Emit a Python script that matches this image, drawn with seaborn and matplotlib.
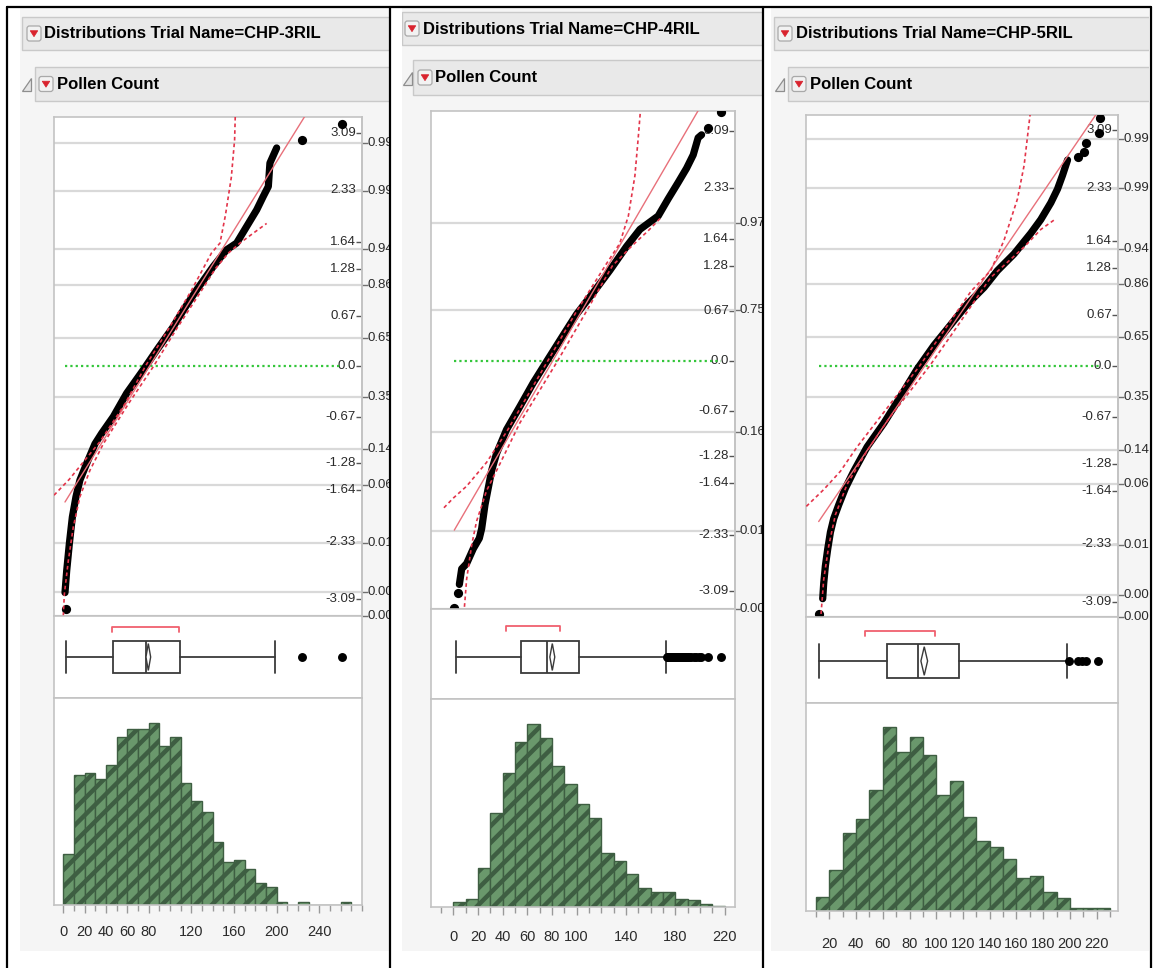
"""
JMP-style distribution report for pollen count, three RIL trials side by side.

Each panel: normal quantile plot (with fit line and Lilliefors bands),
outlier box plot and a hatched histogram, all sharing one pollen-count axis.
"""

import matplotlib
matplotlib.use("Agg")
import numpy as np
import matplotlib.pyplot as plt
import matplotlib.font_manager as fm
from matplotlib import transforms
from matplotlib.patches import Rectangle, FancyBboxPatch, Polygon
import seaborn as sns

W, H = 1156, 968

TRIALS = ["CHP-3RIL", "CHP-4RIL", "CHP-5RIL"]

# ── Normal quantile plot: dense run of points (pollen count, normal quantile) ──
qq_x_3 = [1.6, 3.2, 5.7, 8.5, 11.9, 15.6, 21.9, 29.7, 36.0, 46.9, 59.4, 75.0, 87.5,
          103.0, 112.5, 125.0, 140.6, 153.0, 162.5, 171.9, 181.3, 187.5, 192.2, 193.7, 200.0]
qq_z_3 = [-3.0, -2.71, -2.35, -2.0, -1.73, -1.51, -1.29, -1.03, -0.89, -0.67, -0.36, -0.05, 0.21,
          0.52, 0.74, 1.01, 1.32, 1.54, 1.63, 1.85, 2.07, 2.25, 2.38, 2.69, 2.89]
qq_x_4 = [4.9, 6.8, 10.8, 16.2, 21.1, 23.0, 25.7, 28.4, 31.1, 35.1, 43.2, 54.0, 64.9, 77.0,
          89.2, 100.0, 113.5, 127.0, 140.5, 151.4, 166.2, 174.3, 182.4, 189.2, 194.6, 198.6, 201.4]
qq_z_4 = [-3.0, -2.79, -2.72, -2.52, -2.38, -2.25, -1.93, -1.70, -1.47, -1.24, -0.92, -0.61, -0.29, 0.03,
          0.35, 0.63, 0.92, 1.22, 1.54, 1.77, 1.95, 2.18, 2.40, 2.59, 2.77, 3.0, 3.04]
qq_x_5 = [15.0, 15.75, 17.0, 18.75, 20.75, 23.25, 27.0, 32.0, 38.25, 48.25, 60.75, 73.25, 85.75,
          98.25, 110.75, 123.25, 135.75, 145.75, 158.25, 170.75, 178.25, 185.75, 190.75, 194.5, 198.25]
qq_z_5 = [-3.05, -2.85, -2.62, -2.40, -2.18, -2.0, -1.82, -1.60, -1.38, -1.06, -0.75, -0.40, -0.04,
          0.27, 0.54, 0.81, 1.03, 1.25, 1.47, 1.74, 1.92, 2.14, 2.32, 2.50, 2.70]

# isolated points at the tails
qq_out_x_3 = [2.2, 224.0, 261.0]
qq_out_z_3 = [-3.22, 3.0, 3.21]
qq_out_x_4 = [0.8, 3.5, 206.8, 217.0]
qq_out_z_4 = [-3.32, -3.12, 3.13, 3.34]
qq_out_x_5 = [12.0, 206.25, 210.75, 212.0, 222.0, 222.75]
qq_out_z_5 = [-3.25, 2.74, 2.81, 2.92, 3.05, 3.25]

# normal fit (mean, std dev)
fit_3 = (80.8, 44.0)
fit_4 = (80.5, 35.1)
fit_5 = (91.3, 38.9)

# Lilliefors confidence bands
band_lo_x_3 = [-8.7, 5.6, 34.4, 57.8, 77.0, 99.0, 120.0, 139.0, 146.9, 152.0, 157.5, 160.6, 161.2]
band_lo_z_3 = [-1.71, -1.5, -1.0, -0.5, 0.0, 0.5, 1.0, 1.5, 1.63, 2.0, 2.5, 3.0, 3.31]
band_hi_x_3 = [0.0, 1.0, 4.7, 9.4, 15.6, 25.0, 37.5, 61.0, 84.7, 106.5, 129.5, 143.0, 155.0, 165.6, 178.0, 190.6]
band_hi_z_3 = [-3.31, -3.02, -2.58, -2.13, -1.73, -1.38, -1.03, -0.5, 0.0, 0.5, 1.0, 1.3, 1.5, 1.63, 1.76, 1.89]
band_lo_x_4 = [-7.6, 0.0, 10.8, 27.0, 43.2, 76.5, 100.0, 124.3, 135.0, 142.0, 147.3, 150.0, 151.9]
band_lo_z_4 = [-1.97, -1.84, -1.68, -1.36, -0.95, 0.0, 0.67, 1.31, 1.58, 1.95, 2.49, 3.0, 3.39]
band_hi_x_4 = [8.6, 10.8, 14.9, 18.9, 27.0, 37.8, 54.0, 84.5, 108.0, 129.0, 145.0, 158.0, 168.0]
band_hi_z_4 = [-3.39, -2.93, -2.47, -2.15, -1.74, -1.38, -0.83, 0.0, 0.67, 1.28, 1.55, 1.75, 1.92]
band_lo_x_5 = [2.75, 15.75, 28.25, 40.75, 87.5, 126.0, 140.75, 150.75, 160.75, 165.75, 168.75, 170.25]
band_lo_z_5 = [-1.84, -1.62, -1.38, -1.06, 0.0, 0.98, 1.25, 1.65, 2.19, 2.63, 3.08, 3.30]
band_hi_x_5 = [13.75, 15.75, 19.5, 24.5, 33.25, 48.25, 65.75, 95.0, 111.0, 140.75, 165.75, 178.25, 189.5]
band_hi_z_5 = [-3.25, -2.8, -2.36, -1.95, -1.55, -1.11, -0.66, 0.0, 0.4, 1.16, 1.56, 1.79, 1.93]

# normal quantile scale drawn inside the plot
quantile_ticks = [3.09, 2.33, 1.64, 1.28, 0.67, 0.0, -0.67, -1.28, -1.64, -2.33, -3.09]
quantile_labels = ["3.09", "2.33", "1.64", "1.28", "0.67", "0.0", "-0.67", "-1.28", "-1.64", "-2.33", "-3.09"]

# probability axis (right), positions in normal-quantile units
prob_z_3 = [2.96, 2.32, 1.55, 1.08, 0.37, -0.41, -1.10, -1.58, -2.34, -2.99, -3.31]
prob_z_4 = [1.86, 0.685, -0.954, -2.28, -3.33]
prob_z_5 = [2.98, 2.33, 1.53, 1.08, 0.38, -0.41, -1.10, -1.55, -2.34, -3.0, -3.29]
prob_labels_3 = ["0.99", "0.99", "0.94", "0.86", "0.65", "0.35", "0.14", "0.06", "0.01", "0.00", "0.00"]
prob_labels_4 = ["0.97", "0.75", "0.16", "0.01", "0.00"]
prob_labels_5 = ["0.99", "0.99", "0.94", "0.86", "0.65", "0.35", "0.14", "0.06", "0.01", "0.00", "0.00"]

# ── Box plots ──
box_3 = dict(whislo=2.8, q1=46.4, med=77.2, q3=109.4, whishi=198.0)
box_4 = dict(whislo=2.0, q1=55.0, med=75.7, q3=102.0, whishi=172.5)
box_5 = dict(whislo=12.5, q1=63.0, med=86.5, q3=117.0, whishi=197.5)
fliers_3 = [224, 261]
fliers_4 = [173, 174, 175, 176, 177, 178, 179, 180, 181, 182, 183, 184, 185, 186, 187,
            188, 189, 190, 191, 193, 195, 197, 199, 201, 207, 217]
fliers_5 = [199, 206, 209, 212, 221]
mean_3, mean_ci_3 = 79.7, (77.5, 81.9)
mean_4, mean_ci_4 = 80.3, (78.3, 82.3)
mean_5, mean_ci_5 = 91.0, (88.5, 93.5)
shortest_half_3 = (46, 108)
shortest_half_4 = (43, 86.5)
shortest_half_5 = (47, 99)

# ── Histograms (bin width 10) ──
BIN_WIDTH = 10
hist_start_3 = 0
hist_counts_3 = [152, 387, 392, 377, 417, 500, 525, 525, 543, 473, 500, 365, 310, 278,
                 187, 128, 133, 107, 65, 55, 8, 0, 8, 0, 0, 0, 8]
hist_start_4 = 0
hist_counts_4 = [15, 25, 117, 282, 400, 493, 548, 505, 422, 368, 308, 267, 160, 138,
                 100, 57, 45, 45, 25, 20, 8, 3]
hist_start_5 = 10
hist_counts_5 = [41, 123, 233, 275, 363, 550, 476, 520, 466, 346, 390, 281, 210, 193,
                 156, 100, 106, 58, 40, 8, 8, 8]
hist_top = [617, 622, 623]

hist_ticks_3 = [0, 20, 40, 60, 80, 120, 160, 200, 240]
hist_ticks_4 = [0, 20, 40, 60, 80, 100, 140, 180, 220]
hist_ticks_5 = [20, 40, 60, 80, 100, 120, 140, 160, 180, 200, 220]

x_limits = [(-8.7, 280.0), (-18.1, 228.5), (2.5, 236.0)]
z_limits = [(-3.31, 3.30), (-3.33, 3.36), (-3.29, 3.29)]

# ── Layout, in image pixels (x0, y0, x1, y1) ──
LAYOUT = [
    dict(shot=(20, 8, 389, 951), bar1=(22, 17, 50), btn1=27, txt1=44,
         tri=22, bar2=(35, 67, 101), btn2=39, txt2=57,
         qq=(54, 117, 362, 616), box_y1=698, hist_y1=905, label_y=933,
         box_c=657, box_h=32, bracket_y=627),
    dict(shot=(402, 8, 763, 951), bar1=(402, 12, 45), btn1=405, txt1=423,
         tri=403, bar2=(413, 60, 95), btn2=418, txt2=435,
         qq=(431, 111, 735, 609), box_y1=699, hist_y1=907, label_y=938,
         box_c=657, box_h=32, bracket_y=626),
    dict(shot=(771, 8, 1149, 951), bar1=(774, 17, 50), btn1=778, txt1=796,
         tri=775, bar2=(788, 67, 101), btn2=792, txt2=810,
         qq=(806, 115, 1118, 617), box_y1=703, hist_y1=911, label_y=945,
         box_c=661, box_h=34, bracket_y=631),
]

PANELS = [
    dict(qx=qq_x_3, qz=qq_z_3, ox=qq_out_x_3, oz=qq_out_z_3, fit=fit_3,
         lo=(band_lo_x_3, band_lo_z_3), hi=(band_hi_x_3, band_hi_z_3),
         pz=prob_z_3, pl=prob_labels_3, box=box_3, fliers=fliers_3, mean=mean_3,
         ci=mean_ci_3, half=shortest_half_3, start=hist_start_3, counts=hist_counts_3,
         ticks=hist_ticks_3),
    dict(qx=qq_x_4, qz=qq_z_4, ox=qq_out_x_4, oz=qq_out_z_4, fit=fit_4,
         lo=(band_lo_x_4, band_lo_z_4), hi=(band_hi_x_4, band_hi_z_4),
         pz=prob_z_4, pl=prob_labels_4, box=box_4, fliers=fliers_4, mean=mean_4,
         ci=mean_ci_4, half=shortest_half_4, start=hist_start_4, counts=hist_counts_4,
         ticks=hist_ticks_4),
    dict(qx=qq_x_5, qz=qq_z_5, ox=qq_out_x_5, oz=qq_out_z_5, fit=fit_5,
         lo=(band_lo_x_5, band_lo_z_5), hi=(band_hi_x_5, band_hi_z_5),
         pz=prob_z_5, pl=prob_labels_5, box=box_5, fliers=fliers_5, mean=mean_5,
         ci=mean_ci_5, half=shortest_half_5, start=hist_start_5, counts=hist_counts_5,
         ticks=hist_ticks_5),
]

# ── Style ──
PANEL_BG = "#f5f5f5"
BAR_BG = "#e9e9e9"
BAR_EDGE = "#c9c9c9"
FRAME = "#c3c3c3"
GRID = "#d9d9d9"
TICK = "#707070"
TXT = "#2a2a2a"
RED_FIT = "#e8707a"
RED_BAND = "#e3344a"
RED_BTN = "#d9232e"
BRACKET = "#f0606e"
GREEN_REF = "#33c63a"
HIST_FACE = "#6a986c"
HIST_EDGE = "#3e5e42"
BOX_LINE = "#3a3a3a"

sns.set_theme(style="white")
_installed = {f.name for f in fm.fontManager.ttflist}
NARROW = next((n for n in ["Liberation Sans Narrow", "Liberation Sans", "Roboto"] if n in _installed),
              "DejaVu Sans")
plt.rcParams["font.family"] = [NARROW, "DejaVu Sans"]
plt.rcParams["hatch.linewidth"] = 3.2

HEADER_SIZE = 12
QUANT_SIZE = 9.5
PROB_SIZE = 9.5
HIST_LABEL_SIZE = 10.5


# ── Helpers ──────────────────────────────────────────────────────────────────

def _px_axes(fig, x0, y0, x1, y1):
    return fig.add_axes([x0 / W, 1 - y1 / H, (x1 - x0) / W, (y1 - y0) / H])


def _frame(ax):
    for spine in ax.spines.values():
        spine.set_visible(True)
        spine.set_color(FRAME)
        spine.set_linewidth(1.2)


def _button(bg, x, yc):
    bg.add_patch(FancyBboxPatch((x, yc - 7.5), 14, 15, boxstyle="round,pad=0,rounding_size=2.5",
                                facecolor="#f2f2f2", edgecolor="#a9a9a9", linewidth=0.9))
    bg.add_patch(Polygon([(x + 3.2, yc - 2.8), (x + 10.8, yc - 2.8), (x + 7, yc + 3.2)],
                         closed=True, facecolor=RED_BTN, edgecolor=RED_BTN, linewidth=0.5))


def _headers(bg, lay, title):
    x_end = lay["shot"][2] + 5
    x0, y0, y1 = lay["bar1"]
    bg.add_patch(Rectangle((x0, y0), x_end - x0, y1 - y0, facecolor=BAR_BG,
                           edgecolor=BAR_EDGE, linewidth=1.0))
    _button(bg, lay["btn1"], (y0 + y1) / 2)
    bg.text(lay["txt1"], (y0 + y1) / 2 + 0.5, f"Distributions Trial Name={title}",
            fontsize=HEADER_SIZE, fontweight="bold", color="black", ha="left", va="center")

    x0, y0, y1 = lay["bar2"]
    bg.add_patch(Rectangle((x0, y0), x_end - x0, y1 - y0, facecolor=BAR_BG,
                           edgecolor=BAR_EDGE, linewidth=1.0))
    yc = (y0 + y1) / 2
    t = lay["tri"]
    bg.add_patch(Polygon([(t, yc + 7), (t + 9, yc + 7), (t + 9, yc - 6)], closed=True,
                         facecolor="#e4e4e4", edgecolor="#8e8e8e", linewidth=0.9))
    _button(bg, lay["btn2"], yc)
    bg.text(lay["txt2"], yc + 0.5, "Pollen Count", fontsize=HEADER_SIZE, fontweight="bold",
            color="black", ha="left", va="center")


def _quantile_plot(fig, bg, lay, d, xlim, zlim):
    x0, y0, x1, y1 = lay["qq"]
    ax = _px_axes(fig, x0, y0, x1, y1)
    ax.set_facecolor("white")
    ax.set_xlim(xlim)
    ax.set_ylim(zlim)
    _frame(ax)
    ax.set_xticks([])
    ax.yaxis.tick_right()
    ax.set_yticks(d["pz"], [""] * len(d["pz"]))
    ax.tick_params(axis="y", direction="out", length=4, width=1.0, color=TICK)
    ax.grid(axis="y", color=GRID, linewidth=1.6)
    ax.set_axisbelow(True)

    all_x = np.concatenate([d["qx"], d["ox"]])
    ax.plot([all_x.min(), all_x.max()], [0, 0], color=GREEN_REF, linewidth=1.6,
            linestyle=(0, (1, 1.4)), zorder=1.5)
    ax.plot(d["qx"], d["qz"], color="black", linewidth=5.2,
            solid_capstyle="round", solid_joinstyle="round", zorder=2)
    sns.scatterplot(x=d["ox"], y=d["oz"], ax=ax, color="black", s=44,
                    edgecolor="black", linewidth=0, zorder=3)

    mean, sd = d["fit"]
    fit_x = np.array([all_x.min(), all_x.max()])
    ax.plot(fit_x, (fit_x - mean) / sd, color=RED_FIT, linewidth=1.0, zorder=4)
    ax.plot(*d["lo"], color=RED_BAND, linewidth=1.2, linestyle=(0, (2.2, 1.8)), zorder=4)
    ax.plot(*d["hi"], color=RED_BAND, linewidth=1.2, linestyle=(0, (2.2, 1.8)), zorder=4)

    # normal-quantile scale, ticks pointing inward from the right edge
    sec = ax.secondary_yaxis("right")
    sec.set_yticks(quantile_ticks, [""] * len(quantile_ticks))
    sec.tick_params(direction="in", length=4, width=1.0, color="#555555")
    sec.spines["right"].set_color(FRAME)
    inner = transforms.offset_copy(ax.get_yaxis_transform(), fig=fig, x=-6, y=0, units="dots")
    for q, lbl in zip(quantile_ticks, quantile_labels):
        ax.text(1.0, q, lbl, transform=inner, ha="right", va="center",
                fontsize=QUANT_SIZE, color=TXT, zorder=1)

    # probability labels, clipped by the edge of the screenshot as in JMP
    tr = transforms.blended_transform_factory(bg.transData, ax.transData)
    for z, lbl in zip(d["pz"], d["pl"]):
        bg.text(x1 + 5, z, lbl, transform=tr, ha="left", va="center",
                fontsize=PROB_SIZE, color=TXT, clip_on=True)
    ax.set_xlabel("")
    ax.set_ylabel("")


def _box_plot(fig, lay, d, xlim):
    x0, _, x1, y_top = lay["qq"]
    y_bot = lay["box_y1"]
    ax = _px_axes(fig, x0, y_top, x1, y_bot)
    ax.set_facecolor("white")
    ax.set_xlim(xlim)
    ax.set_ylim(0, 1)
    _frame(ax)
    ax.set_xticks([])
    ax.set_yticks([])

    span = y_bot - y_top
    yc = (y_bot - lay["box_c"]) / span
    bh = lay["box_h"] / span
    stats = dict(d["box"], fliers=np.array(d["fliers"], dtype=float))
    line = dict(color=BOX_LINE, linewidth=1.3)
    ax.bxp([stats], positions=[yc], widths=bh, capwidths=bh, orientation="horizontal",
           patch_artist=True, manage_ticks=False,
           boxprops=dict(facecolor="white", edgecolor=BOX_LINE, linewidth=1.3),
           medianprops=line, whiskerprops=line, capprops=line,
           flierprops=dict(marker="o", markerfacecolor="black", markeredgecolor="black",
                           markersize=5.4, linestyle="none"))

    lo, hi = d["ci"]
    dh = 0.42 * bh
    ax.fill([lo, d["mean"], hi, d["mean"]], [yc, yc + dh, yc, yc - dh],
            facecolor="white", edgecolor=BOX_LINE, linewidth=1.0, zorder=4)

    yb = (y_bot - lay["bracket_y"]) / span
    a, b = d["half"]
    ax.plot([a, a, b, b], [yb - 0.06, yb, yb, yb - 0.06], color=BRACKET, linewidth=1.3)


def _histogram(fig, lay, d, xlim, top):
    x0, _, x1, _ = lay["qq"]
    y_top, y_bot = lay["box_y1"], lay["hist_y1"]
    ax = _px_axes(fig, x0, y_top, x1, y_bot)
    ax.set_facecolor("white")

    counts = d["counts"]
    lefts = [d["start"] + BIN_WIDTH * k for k in range(len(counts))]
    edges = lefts + [lefts[-1] + BIN_WIDTH]
    sns.histplot(x=lefts, weights=counts, bins=edges, ax=ax, color=HIST_FACE,
                 edgecolor=HIST_EDGE, linewidth=1.0, alpha=1.0, hatch="//")

    ax.set_xlim(xlim)
    ax.set_ylim(0, top)
    _frame(ax)
    ax.set_yticks([])
    ax.set_xlabel("")
    ax.set_ylabel("")
    minor = [v for v in range(-10, 300, BIN_WIDTH) if xlim[0] <= v <= xlim[1]]
    ax.set_xticks(minor, minor=True)
    ax.set_xticks(d["ticks"], [str(t) for t in d["ticks"]])
    pad_px = lay["label_y"] - 8 - (y_bot + 8)
    ax.tick_params(axis="x", which="major", bottom=True, direction="out", length=8 / 1.389,
                   width=1.0, color="#9a9a9a", labelsize=HIST_LABEL_SIZE, labelcolor=TXT,
                   pad=pad_px / 1.389)
    ax.tick_params(axis="x", which="minor", bottom=True, direction="out", length=6 / 1.389,
                   width=1.0, color="#9a9a9a")


# ── Figure ───────────────────────────────────────────────────────────────────

fig = plt.figure(figsize=(W / 100, H / 100), dpi=100)
fig.patch.set_facecolor("white")

for i, trial in enumerate(TRIALS):
    lay, d = LAYOUT[i], PANELS[i]
    sx0, sy0, sx1, sy1 = lay["shot"]
    bg = _px_axes(fig, sx0, sy0, sx1, sy1)
    bg.set_xlim(sx0, sx1)
    bg.set_ylim(sy1, sy0)
    bg.set_facecolor(PANEL_BG)
    bg.set_xticks([])
    bg.set_yticks([])
    for spine in bg.spines.values():
        spine.set_visible(False)

    _headers(bg, lay, trial)
    _quantile_plot(fig, bg, lay, d, x_limits[i], z_limits[i])
    _box_plot(fig, lay, d, x_limits[i])
    _histogram(fig, lay, d, x_limits[i], hist_top[i])

# table borders around the three screenshots
border = fig.add_axes([0, 0, 1, 1])
border.set_xlim(0, W)
border.set_ylim(H, 0)
border.patch.set_alpha(0)
border.set_xticks([])
border.set_yticks([])
for spine in border.spines.values():
    spine.set_visible(False)
for xv in [7, 389.5, 763, 1151]:
    border.plot([xv, xv], [6.5, H], color="black", linewidth=1.6)
border.plot([7, 1151], [7, 7], color="black", linewidth=1.6)

fig.savefig("out.png", dpi=100, facecolor="white")
